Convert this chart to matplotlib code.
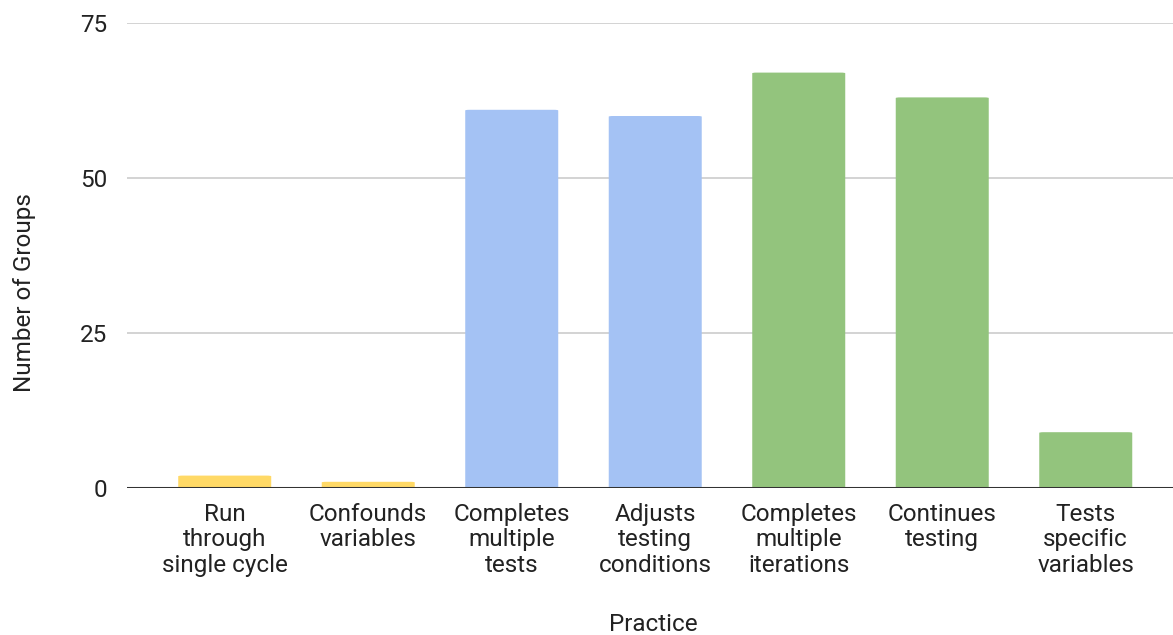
import matplotlib

matplotlib.use('agg')
import matplotlib.pyplot as plt
from matplotlib.patches import FancyBboxPatch

# chart data
practices = [
    "Run\nthrough\nsingle cycle",
    "Confounds\nvariables",
    "Completes\nmultiple\ntests",
    "Adjusts\ntesting\nconditions",
    "Completes\nmultiple\niterations",
    "Continues\ntesting",
    "Tests\nspecific\nvariables",
]
groups = [2, 1, 61, 60, 67, 63, 9]
bar_colors = ["#FFD966", "#FFD966", "#A4C2F4", "#A4C2F4", "#93C47D", "#93C47D", "#93C47D"]
yticks = [0, 25, 50, 75]

plt.rcParams['font.family'] = ['Roboto', 'DejaVu Sans']
FS = 17.5

fig = plt.figure(figsize=(11.73, 6.35), dpi=100)
ax = fig.add_axes([127 / 1173, (635 - 488) / 635, 1 - 127 / 1173, (488 - 23) / 635])

x = list(range(len(practices)))
bars = ax.bar(x, groups, width=0.648, color=bar_colors, zorder=2)

# rounded top corners like the original
for b in bars:
    b.set_visible(False)
    patch = FancyBboxPatch((b.get_x(), b.get_y()), b.get_width(), b.get_height(),
                           boxstyle="round,pad=0,rounding_size=0.03",
                           mutation_aspect=3.5,
                           facecolor=b.get_facecolor(), edgecolor='none', zorder=2)
    ax.add_patch(patch)

ax.set_ylim(0, 75)
ax.set_xlim(-0.681, 6.608)
ax.set_yticks(yticks)
ax.set_xticks(x)
ax.set_xticklabels(practices, fontsize=FS, color="#222222", linespacing=1.12)
ax.tick_params(axis='y', labelsize=FS, labelcolor="#222222", length=0, pad=14)
ax.tick_params(axis='x', length=0, pad=11)

ax.grid(axis='y', color="#CCCCCC", linewidth=1.2, zorder=0)
ax.axhline(0, color="#333333", linewidth=2.2, zorder=3)
for s in ax.spines.values():
    s.set_visible(False)

ax.set_ylabel("Number of Groups", fontsize=FS, color="#222222")
ax.yaxis.set_label_coords(-0.087, 0.42)
ax.set_xlabel("Practice", fontsize=FS, color="#222222")
ax.xaxis.set_label_coords(0.503, -0.268)

plt.savefig("out.png", dpi=100)
